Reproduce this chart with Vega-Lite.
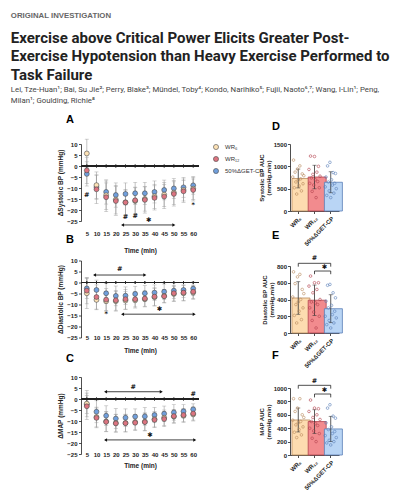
{
"$schema":"https://vega.github.io/schema/vega-lite/v6.json",
"padding":{"left":10,"top":11,"right":5,"bottom":5},
"background":"white",
"title":{"text":"ORIGINAL INVESTIGATION","anchor":"start","frame":"bounds","font":"Liberation Sans","fontSize":7.8,"fontWeight":"bold","color":"#666666","offset":11},
"vconcat":[{
 "title":{"text":["Exercise above Critical Power Elicits Greater Post-","Exercise Hypotension than Heavy Exercise Performed to","Task Failure"],
  "subtitle":["Lei, Tze-Huan¹; Bai, Su Jie²; Perry, Blake³; Mündel, Toby⁴; Kondo, Narihiko⁵; Fujii, Naoto⁶,⁷; Wang, I-Lin¹; Peng,","Milan¹; Goulding, Richie⁸"],
  "anchor":"start","frame":"bounds","dx":-47,"font":"Roboto","fontSize":15,"fontWeight":"bold","lineHeight":18.5,"color":"#222222",
  "subtitleFont":"Roboto","subtitleFontSize":7.8,"subtitleColor":"#444444","subtitleLineHeight":11.5,"subtitlePadding":3,"offset":9},
 "spacing":-6,
 "resolve":{"scale":{"fill":"independent","stroke":"independent","shape":"independent"}},
 "hconcat":[
  {"vconcat":[
   {"title":{"text":"A","anchor":"start","frame":"group","dx":-15,"offset":14,"font":"Liberation Sans","fontSize":11,"fontWeight":"bold","color":"#000000"},
    "width":118,"height":77,
    "resolve":{"axis":{"x":"independent","y":"independent"}},
    "layer":[
     {"data":{"name":"sbp"},"mark":{"type":"errorbar","ticks":true,"size":4,"thickness":0.6,"color":"#9a9a9a"},
      "encoding":{"x":{"field":"t","type":"quantitative","scale":{"domain":[2,63],"nice":false,"zero":false},"axis":{"orient":"bottom","values":[5,10,15,20,25,30,35,40,45,50,55,60],"domain":false,"ticks":false,"labelPadding":0,"labelBaseline":"middle","labelFlush":false,"offset":12,"title":"Time (min)","titlePadding":11.5}},
       "y":{"field":"m","type":"quantitative","scale":{"domain":[-25,10],"nice":false,"zero":false},"axis":{"values":[-25,-20,-15,-10,-5,0,5,10],"labelOverlap":false,"title":"ΔSystolic BP (mmHg)"}},
       "yError":{"field":"sd"}}},
     {"data":{"name":"sbp"},"mark":{"type":"rule","color":"#222222","strokeWidth":0.8},"encoding":{"y":{"datum":0,"type":"quantitative","axis":null}}},
     {"data":{"name":"sbp"},"mark":{"type":"tick","orient":"vertical","size":3,"thickness":0.8,"color":"#222222"},
      "encoding":{"x":{"field":"t","type":"quantitative","axis":null},"y":{"datum":0,"type":"quantitative","axis":null}}},
     {"data":{"name":"sbp"},"mark":{"type":"point","filled":true,"size":24,"stroke":"#4a4a4a","strokeWidth":0.6,"opacity":1},
      "encoding":{"x":{"field":"t","type":"quantitative","axis":null},
       "y":{"field":"m","type":"quantitative","axis":null},
       "fill":{"field":"g","type":"nominal","scale":{"domain":["WR₆","WR₁₂","50%ΔGET-CP"],"range":["#fde2b6","#dc7480","#709fdc"]},
        "legend":{"title":null,"orient":"right","offset":14,"padding":0,"symbolType":"circle","symbolSize":26,"symbolStrokeColor":"#4a4a4a","symbolStrokeWidth":0.6,"symbolOpacity":1,"labelFont":"Liberation Sans","labelFontSize":6,"labelColor":"#333333","labelOffset":6,"rowPadding":4}}}},
     {"data":{"name":"arr"},"transform":[{"filter":"datum.p==='A'"}],"mark":{"type":"rule","color":"#111111","strokeWidth":0.8},
      "encoding":{"x":{"field":"t1","type":"quantitative","axis":null},"x2":{"field":"t2"},"y":{"field":"y","type":"quantitative","axis":null}}},
     {"data":{"name":"arr"},"transform":[{"filter":"datum.p==='A'"},{"fold":["t1","t2"],"as":["end","t"]}],"mark":{"type":"point","filled":true,"size":12,"color":"#111111","opacity":1},
      "encoding":{"x":{"field":"t","type":"quantitative","axis":null},"y":{"field":"y","type":"quantitative","axis":null},"shape":{"field":"end","type":"nominal","scale":{"domain":["t1","t2"],"range":["triangle-left","triangle-right"]},"legend":null}}},
     {"data":{"name":"sig"},"transform":[{"filter":"datum.p==='A'"}],"mark":{"type":"text","font":"DejaVu Sans","fontSize":6.5,"fontWeight":"bold","color":"#111111","baseline":"middle"},
      "encoding":{"x":{"field":"t","type":"quantitative","axis":null},"y":{"field":"y","type":"quantitative","axis":null},"text":{"field":"s"}}}
    ]},
   {"title":{"text":"B","anchor":"start","frame":"group","dx":-15,"offset":13,"font":"Liberation Sans","fontSize":11,"fontWeight":"bold","color":"#000000"},
    "width":118,"height":77,
    "resolve":{"axis":{"x":"independent","y":"independent"}},
    "layer":[
     {"data":{"name":"dbp"},"mark":{"type":"errorbar","ticks":true,"size":4,"thickness":0.6,"color":"#9a9a9a"},
      "encoding":{"x":{"field":"t","type":"quantitative","scale":{"domain":[2,63],"nice":false,"zero":false},"axis":{"orient":"bottom","values":[5,10,15,20,25,30,35,40,45,50,55,60],"domain":false,"ticks":false,"labelPadding":0,"labelBaseline":"middle","labelFlush":false,"offset":0,"title":"Time (min)","titlePadding":6.5}},
       "y":{"field":"m","type":"quantitative","scale":{"domain":[-25,10],"nice":false,"zero":false},"axis":{"values":[-25,-20,-15,-10,-5,0,5,10],"labelOverlap":false,"title":"ΔDiastolic BP (mmHg)"}},
       "yError":{"field":"sd"}}},
     {"data":{"name":"dbp"},"mark":{"type":"rule","color":"#222222","strokeWidth":0.8},"encoding":{"y":{"datum":0,"type":"quantitative","axis":null}}},
     {"data":{"name":"dbp"},"mark":{"type":"tick","orient":"vertical","size":3,"thickness":0.8,"color":"#222222"},
      "encoding":{"x":{"field":"t","type":"quantitative","axis":null},"y":{"datum":0,"type":"quantitative","axis":null}}},
     {"data":{"name":"dbp"},"mark":{"type":"point","filled":true,"size":24,"stroke":"#4a4a4a","strokeWidth":0.6,"opacity":1},
      "encoding":{"x":{"field":"t","type":"quantitative","axis":null},
       "y":{"field":"m","type":"quantitative","axis":null},
       "fill":{"field":"g","type":"nominal","scale":{"domain":["WR₆","WR₁₂","50%ΔGET-CP"],"range":["#fde2b6","#dc7480","#709fdc"]},"legend":null}}},
     {"data":{"name":"arr"},"transform":[{"filter":"datum.p==='B'"}],"mark":{"type":"rule","color":"#111111","strokeWidth":0.8},
      "encoding":{"x":{"field":"t1","type":"quantitative","axis":null},"x2":{"field":"t2"},"y":{"field":"y","type":"quantitative","axis":null}}},
     {"data":{"name":"arr"},"transform":[{"filter":"datum.p==='B'"},{"fold":["t1","t2"],"as":["end","t"]}],"mark":{"type":"point","filled":true,"size":12,"color":"#111111","opacity":1},
      "encoding":{"x":{"field":"t","type":"quantitative","axis":null},"y":{"field":"y","type":"quantitative","axis":null},"shape":{"field":"end","type":"nominal","scale":{"domain":["t1","t2"],"range":["triangle-left","triangle-right"]},"legend":null}}},
     {"data":{"name":"sig"},"transform":[{"filter":"datum.p==='B'"}],"mark":{"type":"text","font":"DejaVu Sans","fontSize":6.5,"fontWeight":"bold","color":"#111111","baseline":"middle"},
      "encoding":{"x":{"field":"t","type":"quantitative","axis":null},"y":{"field":"y","type":"quantitative","axis":null},"text":{"field":"s"}}}
    ]},
   {"title":{"text":"C","anchor":"start","frame":"group","dx":-15,"offset":10,"font":"Liberation Sans","fontSize":11,"fontWeight":"bold","color":"#000000"},
    "width":118,"height":77,
    "resolve":{"axis":{"x":"independent","y":"independent"}},
    "layer":[
     {"data":{"name":"map"},"mark":{"type":"errorbar","ticks":true,"size":4,"thickness":0.6,"color":"#9a9a9a"},
      "encoding":{"x":{"field":"t","type":"quantitative","scale":{"domain":[2,63],"nice":false,"zero":false},"axis":{"orient":"bottom","values":[5,10,15,20,25,30,35,40,45,50,55,60],"domain":false,"ticks":false,"labelPadding":0,"labelBaseline":"middle","labelFlush":false,"offset":0,"title":"Time (min)","titlePadding":5.5}},
       "y":{"field":"m","type":"quantitative","scale":{"domain":[-25,10],"nice":false,"zero":false},"axis":{"values":[-25,-20,-15,-10,-5,0,5,10],"labelOverlap":false,"title":"ΔMAP (mmHg)"}},
       "yError":{"field":"sd"}}},
     {"data":{"name":"map"},"mark":{"type":"rule","color":"#222222","strokeWidth":0.8},"encoding":{"y":{"datum":0,"type":"quantitative","axis":null}}},
     {"data":{"name":"map"},"mark":{"type":"tick","orient":"vertical","size":3,"thickness":0.8,"color":"#222222"},
      "encoding":{"x":{"field":"t","type":"quantitative","axis":null},"y":{"datum":0,"type":"quantitative","axis":null}}},
     {"data":{"name":"map"},"mark":{"type":"point","filled":true,"size":24,"stroke":"#4a4a4a","strokeWidth":0.6,"opacity":1},
      "encoding":{"x":{"field":"t","type":"quantitative","axis":null},
       "y":{"field":"m","type":"quantitative","axis":null},
       "fill":{"field":"g","type":"nominal","scale":{"domain":["WR₆","WR₁₂","50%ΔGET-CP"],"range":["#fde2b6","#dc7480","#709fdc"]},"legend":null}}},
     {"data":{"name":"arr"},"transform":[{"filter":"datum.p==='C'"}],"mark":{"type":"rule","color":"#111111","strokeWidth":0.8},
      "encoding":{"x":{"field":"t1","type":"quantitative","axis":null},"x2":{"field":"t2"},"y":{"field":"y","type":"quantitative","axis":null}}},
     {"data":{"name":"arr"},"transform":[{"filter":"datum.p==='C'"},{"fold":["t1","t2"],"as":["end","t"]}],"mark":{"type":"point","filled":true,"size":12,"color":"#111111","opacity":1},
      "encoding":{"x":{"field":"t","type":"quantitative","axis":null},"y":{"field":"y","type":"quantitative","axis":null},"shape":{"field":"end","type":"nominal","scale":{"domain":["t1","t2"],"range":["triangle-left","triangle-right"]},"legend":null}}},
     {"data":{"name":"sig"},"transform":[{"filter":"datum.p==='C'"}],"mark":{"type":"text","font":"DejaVu Sans","fontSize":6.5,"fontWeight":"bold","color":"#111111","baseline":"middle"},
      "encoding":{"x":{"field":"t","type":"quantitative","axis":null},"y":{"field":"y","type":"quantitative","axis":null},"text":{"field":"s"}}}
    ]}
  ],
  "spacing":39.5,"bounds":"flush",
  "resolve":{"scale":{"fill":"independent","shape":"independent"},"legend":{"fill":"independent"}}},
  {"vconcat":[
   {"title":{"text":"D","anchor":"start","frame":"group","dx":-18,"offset":9,"font":"Liberation Sans","fontSize":11,"fontWeight":"bold","color":"#000000"},
    "width":49,"height":67,
    "resolve":{"axis":{"x":"independent","y":"independent"}},
    "layer":[
     {"data":{"name":"auc"},"transform":[{"filter":"datum.p==='D'"}],"mark":{"type":"bar","strokeWidth":0.8},
      "encoding":{"x":{"field":"g","type":"nominal","sort":["WR₆","WR₁₂","50%ΔGET-CP"],"scale":{"paddingInner":0.22,"paddingOuter":0.12},"axis":{"title":null,"labelAngle":-45}},
       "y":{"aggregate":"mean","field":"v","type":"quantitative","scale":{"domain":[0,1500],"nice":false},"axis":{"values":[0,500,1000,1500],"format":"d","titleFontSize":6,"titleLineHeight":7,"titlePadding":2,"labelPadding":1,"title":["Systolic BP AUC","(mmHg.min)"]}},
       "fill":{"field":"g","type":"nominal","scale":{"domain":["WR₆","WR₁₂","50%ΔGET-CP"],"range":["#fddcb0","#f28b8e","#b9d5f5"]},"legend":null},
       "stroke":{"field":"g","type":"nominal","scale":{"domain":["WR₆","WR₁₂","50%ΔGET-CP"],"range":["#b98a5c","#b3424e","#5b7fb8"]},"legend":null}}},
     {"data":{"name":"auc"},"transform":[{"filter":"datum.p==='D'"}],"mark":{"type":"errorbar","extent":"stdev","ticks":true,"size":4,"thickness":0.8,"color":"#333333"},
      "encoding":{"x":{"field":"g","type":"nominal","sort":["WR₆","WR₁₂","50%ΔGET-CP"],"axis":null},"y":{"field":"v","type":"quantitative","axis":null}}},
     {"data":{"name":"auc"},"transform":[{"filter":"datum.p==='D'"}],"mark":{"type":"point","filled":false,"size":7,"strokeWidth":0.6,"opacity":1},
      "encoding":{"x":{"field":"g","type":"nominal","sort":["WR₆","WR₁₂","50%ΔGET-CP"],"axis":null},"xOffset":{"field":"s","type":"nominal","scale":{"paddingOuter":1.5}},"y":{"field":"v","type":"quantitative","axis":null},"stroke":{"field":"g","type":"nominal","legend":null}}}
    ]},
   {"title":{"text":"E","anchor":"start","frame":"group","dx":-18,"offset":14,"font":"Liberation Sans","fontSize":11,"fontWeight":"bold","color":"#000000"},
    "width":49,"height":67,
    "resolve":{"axis":{"x":"independent","y":"independent"}},
    "layer":[
     {"data":{"name":"auc"},"transform":[{"filter":"datum.p==='E'"}],"mark":{"type":"bar","strokeWidth":0.8},
      "encoding":{"x":{"field":"g","type":"nominal","sort":["WR₆","WR₁₂","50%ΔGET-CP"],"scale":{"paddingInner":0.22,"paddingOuter":0.12},"axis":{"title":null,"labelAngle":-45}},
       "y":{"aggregate":"mean","field":"v","type":"quantitative","scale":{"domain":[0,800],"nice":false},"axis":{"values":[0,200,400,600,800],"format":"d","titleFontSize":6,"titleLineHeight":7,"titlePadding":2,"labelPadding":1,"title":["Diastolic BP AUC","(mmHg.min)"]}},
       "fill":{"field":"g","type":"nominal","scale":{"domain":["WR₆","WR₁₂","50%ΔGET-CP"],"range":["#fddcb0","#f28b8e","#b9d5f5"]},"legend":null},
       "stroke":{"field":"g","type":"nominal","scale":{"domain":["WR₆","WR₁₂","50%ΔGET-CP"],"range":["#b98a5c","#b3424e","#5b7fb8"]},"legend":null}}},
     {"data":{"name":"auc"},"transform":[{"filter":"datum.p==='E'"}],"mark":{"type":"errorbar","extent":"stdev","ticks":true,"size":4,"thickness":0.8,"color":"#333333"},
      "encoding":{"x":{"field":"g","type":"nominal","sort":["WR₆","WR₁₂","50%ΔGET-CP"],"axis":null},"y":{"field":"v","type":"quantitative","axis":null}}},
     {"data":{"name":"auc"},"transform":[{"filter":"datum.p==='E'"}],"mark":{"type":"point","filled":false,"size":7,"strokeWidth":0.6,"opacity":1},
      "encoding":{"x":{"field":"g","type":"nominal","sort":["WR₆","WR₁₂","50%ΔGET-CP"],"axis":null},"xOffset":{"field":"s","type":"nominal","scale":{"paddingOuter":1.5}},"y":{"field":"v","type":"quantitative","axis":null},"stroke":{"field":"g","type":"nominal","legend":null}}},
     {"data":{"name":"br"},"transform":[{"filter":"datum.p==='E'"}],"mark":{"type":"line","color":"#222222","strokeWidth":0.8},
      "encoding":{"x":{"field":"g","type":"nominal","sort":["WR₆","WR₁₂","50%ΔGET-CP"],"axis":null},"y":{"field":"y","type":"quantitative","axis":null},"detail":{"field":"b"},"order":{"field":"o"}}},
     {"data":{"name":"brt"},"transform":[{"filter":"datum.p==='E' && datum.s==='#'"}],"mark":{"type":"text","font":"DejaVu Sans","fontSize":6.5,"fontWeight":"bold","color":"#111111","baseline":"middle"},
      "encoding":{"x":{"field":"g","type":"nominal","sort":["WR₆","WR₁₂","50%ΔGET-CP"],"axis":null},"y":{"field":"y","type":"quantitative","axis":null},"text":{"field":"s"}}},
     {"data":{"name":"brt"},"transform":[{"filter":"datum.p==='E' && datum.s!=='#'"}],"mark":{"type":"text","font":"DejaVu Sans","fontSize":6.5,"fontWeight":"bold","color":"#111111","baseline":"middle"},
      "encoding":{"x":{"field":"g","type":"nominal","sort":["WR₆","WR₁₂","50%ΔGET-CP"],"bandPosition":0,"axis":null},"y":{"field":"y","type":"quantitative","axis":null},"text":{"field":"s"}}}
    ]},
   {"title":{"text":"F","anchor":"start","frame":"group","dx":-18,"offset":17,"font":"Liberation Sans","fontSize":11,"fontWeight":"bold","color":"#000000"},
    "width":49,"height":67,
    "resolve":{"axis":{"x":"independent","y":"independent"}},
    "layer":[
     {"data":{"name":"auc"},"transform":[{"filter":"datum.p==='F'"}],"mark":{"type":"bar","strokeWidth":0.8},
      "encoding":{"x":{"field":"g","type":"nominal","sort":["WR₆","WR₁₂","50%ΔGET-CP"],"scale":{"paddingInner":0.22,"paddingOuter":0.12},"axis":{"title":null,"labelAngle":-45}},
       "y":{"aggregate":"mean","field":"v","type":"quantitative","scale":{"domain":[0,1000],"nice":false},"axis":{"values":[0,200,400,600,800,1000],"format":"d","titleFontSize":6,"titleLineHeight":7,"titlePadding":2,"labelPadding":1,"title":["MAP AUC","(mmHg.min)"]}},
       "fill":{"field":"g","type":"nominal","scale":{"domain":["WR₆","WR₁₂","50%ΔGET-CP"],"range":["#fddcb0","#f28b8e","#b9d5f5"]},"legend":null},
       "stroke":{"field":"g","type":"nominal","scale":{"domain":["WR₆","WR₁₂","50%ΔGET-CP"],"range":["#b98a5c","#b3424e","#5b7fb8"]},"legend":null}}},
     {"data":{"name":"auc"},"transform":[{"filter":"datum.p==='F'"}],"mark":{"type":"errorbar","extent":"stdev","ticks":true,"size":4,"thickness":0.8,"color":"#333333"},
      "encoding":{"x":{"field":"g","type":"nominal","sort":["WR₆","WR₁₂","50%ΔGET-CP"],"axis":null},"y":{"field":"v","type":"quantitative","axis":null}}},
     {"data":{"name":"auc"},"transform":[{"filter":"datum.p==='F'"}],"mark":{"type":"point","filled":false,"size":7,"strokeWidth":0.6,"opacity":1},
      "encoding":{"x":{"field":"g","type":"nominal","sort":["WR₆","WR₁₂","50%ΔGET-CP"],"axis":null},"xOffset":{"field":"s","type":"nominal","scale":{"paddingOuter":1.5}},"y":{"field":"v","type":"quantitative","axis":null},"stroke":{"field":"g","type":"nominal","legend":null}}},
     {"data":{"name":"br"},"transform":[{"filter":"datum.p==='F'"}],"mark":{"type":"line","color":"#222222","strokeWidth":0.8},
      "encoding":{"x":{"field":"g","type":"nominal","sort":["WR₆","WR₁₂","50%ΔGET-CP"],"axis":null},"y":{"field":"y","type":"quantitative","axis":null},"detail":{"field":"b"},"order":{"field":"o"}}},
     {"data":{"name":"brt"},"transform":[{"filter":"datum.p==='F' && datum.s==='#'"}],"mark":{"type":"text","font":"DejaVu Sans","fontSize":6.5,"fontWeight":"bold","color":"#111111","baseline":"middle"},
      "encoding":{"x":{"field":"g","type":"nominal","sort":["WR₆","WR₁₂","50%ΔGET-CP"],"axis":null},"y":{"field":"y","type":"quantitative","axis":null},"text":{"field":"s"}}},
     {"data":{"name":"brt"},"transform":[{"filter":"datum.p==='F' && datum.s!=='#'"}],"mark":{"type":"text","font":"DejaVu Sans","fontSize":6.5,"fontWeight":"bold","color":"#111111","baseline":"middle"},
      "encoding":{"x":{"field":"g","type":"nominal","sort":["WR₆","WR₁₂","50%ΔGET-CP"],"bandPosition":0,"axis":null},"y":{"field":"y","type":"quantitative","axis":null},"text":{"field":"s"}}}
    ]}
  ],
  "spacing":55,"bounds":"flush"}
 ]
}],
"datasets":{
"sbp":[
{"t":5,"g":"50%ΔGET-CP","m":-3.6,"sd":5.5},{"t":5,"g":"WR₆","m":5.7,"sd":6.5},{"t":5,"g":"WR₁₂","m":-2.0,"sd":6},
{"t":10,"g":"50%ΔGET-CP","m":-9.6,"sd":5.5},{"t":10,"g":"WR₆","m":-8.7,"sd":6},{"t":10,"g":"WR₁₂","m":-10.6,"sd":6.5},
{"t":15,"g":"50%ΔGET-CP","m":-11.8,"sd":5.5},{"t":15,"g":"WR₆","m":-13.3,"sd":6.5},{"t":15,"g":"WR₁₂","m":-14.2,"sd":6.5},
{"t":20,"g":"50%ΔGET-CP","m":-13.2,"sd":5.5},{"t":20,"g":"WR₆","m":-15.3,"sd":6.5},{"t":20,"g":"WR₁₂","m":-15.9,"sd":6.5},
{"t":25,"g":"50%ΔGET-CP","m":-12.7,"sd":5},{"t":25,"g":"WR₆","m":-16.5,"sd":5.5},{"t":25,"g":"WR₁₂","m":-16.6,"sd":6},
{"t":30,"g":"50%ΔGET-CP","m":-12.4,"sd":5},{"t":30,"g":"WR₆","m":-15.9,"sd":6},{"t":30,"g":"WR₁₂","m":-15.6,"sd":6},
{"t":35,"g":"50%ΔGET-CP","m":-12.4,"sd":5},{"t":35,"g":"WR₆","m":-15.0,"sd":5.5},{"t":35,"g":"WR₁₂","m":-15.4,"sd":6},
{"t":40,"g":"50%ΔGET-CP","m":-11.8,"sd":5},{"t":40,"g":"WR₆","m":-13.8,"sd":5.5},{"t":40,"g":"WR₁₂","m":-14.5,"sd":5.5},
{"t":45,"g":"50%ΔGET-CP","m":-10.9,"sd":4.5},{"t":45,"g":"WR₆","m":-13.0,"sd":5.5},{"t":45,"g":"WR₁₂","m":-13.9,"sd":5.5},
{"t":50,"g":"50%ΔGET-CP","m":-10.2,"sd":4.5},{"t":50,"g":"WR₆","m":-12.1,"sd":5.5},{"t":50,"g":"WR₁₂","m":-12.7,"sd":5.5},
{"t":55,"g":"50%ΔGET-CP","m":-9.7,"sd":4.5},{"t":55,"g":"WR₆","m":-10.9,"sd":5},{"t":55,"g":"WR₁₂","m":-11.5,"sd":5},
{"t":60,"g":"50%ΔGET-CP","m":-8.8,"sd":4},{"t":60,"g":"WR₆","m":-10.3,"sd":5},{"t":60,"g":"WR₁₂","m":-10.9,"sd":5}
],
"dbp":[
{"t":5,"g":"50%ΔGET-CP","m":-2.7,"sd":4.5},{"t":5,"g":"WR₆","m":-4.9,"sd":7},{"t":5,"g":"WR₁₂","m":-3.7,"sd":6},
{"t":10,"g":"50%ΔGET-CP","m":-3.4,"sd":4.5},{"t":10,"g":"WR₆","m":-7.9,"sd":4.5},{"t":10,"g":"WR₁₂","m":-6.6,"sd":5.5},
{"t":15,"g":"50%ΔGET-CP","m":-4.9,"sd":4.5},{"t":15,"g":"WR₆","m":-8.5,"sd":4.5},{"t":15,"g":"WR₁₂","m":-7.8,"sd":5},
{"t":20,"g":"50%ΔGET-CP","m":-6.1,"sd":4.5},{"t":20,"g":"WR₆","m":-8.5,"sd":4.5},{"t":20,"g":"WR₁₂","m":-8.1,"sd":4.5},
{"t":25,"g":"50%ΔGET-CP","m":-6.0,"sd":4},{"t":25,"g":"WR₆","m":-8.2,"sd":4},{"t":25,"g":"WR₁₂","m":-7.6,"sd":4.5},
{"t":30,"g":"50%ΔGET-CP","m":-5.2,"sd":3.5},{"t":30,"g":"WR₆","m":-8.1,"sd":3.5},{"t":30,"g":"WR₁₂","m":-7.6,"sd":3.5},
{"t":35,"g":"50%ΔGET-CP","m":-4.9,"sd":3.5},{"t":35,"g":"WR₆","m":-7.6,"sd":3.5},{"t":35,"g":"WR₁₂","m":-7.3,"sd":3.5},
{"t":40,"g":"50%ΔGET-CP","m":-4.6,"sd":3.5},{"t":40,"g":"WR₆","m":-6.7,"sd":4},{"t":40,"g":"WR₁₂","m":-6.4,"sd":4},
{"t":45,"g":"50%ΔGET-CP","m":-4.2,"sd":3.5},{"t":45,"g":"WR₆","m":-6.1,"sd":3},{"t":45,"g":"WR₁₂","m":-6.3,"sd":3},
{"t":50,"g":"50%ΔGET-CP","m":-3.7,"sd":3.5},{"t":50,"g":"WR₆","m":-5.2,"sd":3.5},{"t":50,"g":"WR₁₂","m":-4.9,"sd":3.5},
{"t":55,"g":"50%ΔGET-CP","m":-3.4,"sd":3.5},{"t":55,"g":"WR₆","m":-4.9,"sd":3.5},{"t":55,"g":"WR₁₂","m":-4.6,"sd":3.5},
{"t":60,"g":"50%ΔGET-CP","m":-2.8,"sd":3},{"t":60,"g":"WR₆","m":-4.6,"sd":3},{"t":60,"g":"WR₁₂","m":-4.2,"sd":3}
],
"map":[
{"t":5,"g":"50%ΔGET-CP","m":-2.5,"sd":4},{"t":5,"g":"WR₆","m":-2.1,"sd":6},{"t":5,"g":"WR₁₂","m":-3.3,"sd":6},
{"t":10,"g":"50%ΔGET-CP","m":-5.8,"sd":5},{"t":10,"g":"WR₆","m":-8.2,"sd":4.5},{"t":10,"g":"WR₁₂","m":-8.6,"sd":4.5},
{"t":15,"g":"50%ΔGET-CP","m":-7.6,"sd":4.5},{"t":15,"g":"WR₆","m":-10.2,"sd":4.5},{"t":15,"g":"WR₁₂","m":-10.4,"sd":4.5},
{"t":20,"g":"50%ΔGET-CP","m":-8.9,"sd":4.5},{"t":20,"g":"WR₆","m":-10.9,"sd":4},{"t":20,"g":"WR₁₂","m":-11.1,"sd":4},
{"t":25,"g":"50%ΔGET-CP","m":-8.5,"sd":4},{"t":25,"g":"WR₆","m":-10.9,"sd":4},{"t":25,"g":"WR₁₂","m":-11.0,"sd":4},
{"t":30,"g":"50%ΔGET-CP","m":-8.0,"sd":3.5},{"t":30,"g":"WR₆","m":-10.5,"sd":3.5},{"t":30,"g":"WR₁₂","m":-10.8,"sd":3.5},
{"t":35,"g":"50%ΔGET-CP","m":-7.9,"sd":4},{"t":35,"g":"WR₆","m":-10.3,"sd":4},{"t":35,"g":"WR₁₂","m":-10.5,"sd":4},
{"t":40,"g":"50%ΔGET-CP","m":-7.3,"sd":3.5},{"t":40,"g":"WR₆","m":-9.2,"sd":3.5},{"t":40,"g":"WR₁₂","m":-9.5,"sd":3.5},
{"t":45,"g":"50%ΔGET-CP","m":-6.7,"sd":3.5},{"t":45,"g":"WR₆","m":-8.5,"sd":3.5},{"t":45,"g":"WR₁₂","m":-9.1,"sd":3.5},
{"t":50,"g":"50%ΔGET-CP","m":-6.1,"sd":3.5},{"t":50,"g":"WR₆","m":-8.0,"sd":3},{"t":50,"g":"WR₁₂","m":-7.8,"sd":3},
{"t":55,"g":"50%ΔGET-CP","m":-5.6,"sd":3},{"t":55,"g":"WR₆","m":-7.6,"sd":3},{"t":55,"g":"WR₁₂","m":-7.3,"sd":3},
{"t":60,"g":"50%ΔGET-CP","m":-4.7,"sd":2.5},{"t":60,"g":"WR₆","m":-7.0,"sd":3},{"t":60,"g":"WR₁₂","m":-6.6,"sd":3}
],
"arr":[
{"p":"A","t1":23.5,"t2":50,"y":-26.8},
{"p":"B","t1":9,"t2":35,"y":3.4},{"p":"B","t1":23.5,"t2":60.5,"y":-14.4},
{"p":"C","t1":14.7,"t2":43.5,"y":3.3},{"p":"C","t1":14.7,"t2":60.8,"y":-18.6}
],
"sig":[
{"p":"A","t":5,"y":-13.2,"s":"#"},{"p":"A","t":25,"y":-23.3,"s":"#"},{"p":"A","t":30,"y":-22.8,"s":"#"},{"p":"A","t":37,"y":-24.6,"s":"✱"},{"p":"A","t":60,"y":-17.7,"s":"*"},
{"p":"B","t":22,"y":6.1,"s":"#"},{"p":"B","t":15,"y":-14.2,"s":"*"},{"p":"B","t":42.5,"y":-12.1,"s":"✱"},
{"p":"C","t":29,"y":5.5,"s":"#"},{"p":"C","t":60,"y":2.2,"s":"#"},{"p":"C","t":37.6,"y":-16.2,"s":"✱"}
],
"br":[
{"p":"E","b":"h","g":"WR₆","y":792,"o":1},{"p":"E","b":"h","g":"WR₆","y":832,"o":2},{"p":"E","b":"h","g":"50%ΔGET-CP","y":832,"o":3},{"p":"E","b":"h","g":"50%ΔGET-CP","y":792,"o":4},
{"p":"E","b":"s","g":"WR₁₂","y":702,"o":1},{"p":"E","b":"s","g":"WR₁₂","y":740,"o":2},{"p":"E","b":"s","g":"50%ΔGET-CP","y":740,"o":3},{"p":"E","b":"s","g":"50%ΔGET-CP","y":702,"o":4},
{"p":"F","b":"h","g":"WR₆","y":990,"o":1},{"p":"F","b":"h","g":"WR₆","y":1040,"o":2},{"p":"F","b":"h","g":"50%ΔGET-CP","y":1040,"o":3},{"p":"F","b":"h","g":"50%ΔGET-CP","y":990,"o":4},
{"p":"F","b":"s","g":"WR₁₂","y":860,"o":1},{"p":"F","b":"s","g":"WR₁₂","y":910,"o":2},{"p":"F","b":"s","g":"50%ΔGET-CP","y":910,"o":3},{"p":"F","b":"s","g":"50%ΔGET-CP","y":860,"o":4}
],
"brt":[
{"p":"E","s":"#","g":"WR₁₂","y":892},{"p":"E","s":"✱","g":"50%ΔGET-CP","y":784},
{"p":"F","s":"#","g":"WR₁₂","y":1110},{"p":"F","s":"✱","g":"50%ΔGET-CP","y":970}
],
"auc":[
{"p":"D","g":"WR₆","s":1,"v":760},{"p":"D","g":"WR₆","s":2,"v":1140},{"p":"D","g":"WR₆","s":3,"v":520},{"p":"D","g":"WR₆","s":4,"v":870},{"p":"D","g":"WR₆","s":5,"v":650},{"p":"D","g":"WR₆","s":6,"v":380},{"p":"D","g":"WR₆","s":7,"v":940},{"p":"D","g":"WR₆","s":8,"v":690},{"p":"D","g":"WR₆","s":9,"v":560},{"p":"D","g":"WR₆","s":10,"v":1010},{"p":"D","g":"WR₆","s":11,"v":720},{"p":"D","g":"WR₆","s":12,"v":450},{"p":"D","g":"WR₆","s":13,"v":830},{"p":"D","g":"WR₆","s":14,"v":610},{"p":"D","g":"WR₆","s":15,"v":790},
{"p":"D","g":"WR₁₂","s":1,"v":930},{"p":"D","g":"WR₁₂","s":2,"v":620},{"p":"D","g":"WR₁₂","s":3,"v":1230},{"p":"D","g":"WR₁₂","s":4,"v":740},{"p":"D","g":"WR₁₂","s":5,"v":440},{"p":"D","g":"WR₁₂","s":6,"v":820},{"p":"D","g":"WR₁₂","s":7,"v":580},{"p":"D","g":"WR₁₂","s":8,"v":1220},{"p":"D","g":"WR₁₂","s":9,"v":700},{"p":"D","g":"WR₁₂","s":10,"v":300},{"p":"D","g":"WR₁₂","s":11,"v":870},{"p":"D","g":"WR₁₂","s":12,"v":660},{"p":"D","g":"WR₁₂","s":13,"v":1000},{"p":"D","g":"WR₁₂","s":14,"v":520},{"p":"D","g":"WR₁₂","s":15,"v":780},
{"p":"D","g":"50%ΔGET-CP","s":1,"v":540},{"p":"D","g":"50%ΔGET-CP","s":2,"v":760},{"p":"D","g":"50%ΔGET-CP","s":3,"v":350},{"p":"D","g":"50%ΔGET-CP","s":4,"v":1010},{"p":"D","g":"50%ΔGET-CP","s":5,"v":650},{"p":"D","g":"50%ΔGET-CP","s":6,"v":450},{"p":"D","g":"50%ΔGET-CP","s":7,"v":1090},{"p":"D","g":"50%ΔGET-CP","s":8,"v":300},{"p":"D","g":"50%ΔGET-CP","s":9,"v":700},{"p":"D","g":"50%ΔGET-CP","s":10,"v":580},{"p":"D","g":"50%ΔGET-CP","s":11,"v":860},{"p":"D","g":"50%ΔGET-CP","s":12,"v":400},{"p":"D","g":"50%ΔGET-CP","s":13,"v":620},{"p":"D","g":"50%ΔGET-CP","s":14,"v":840},{"p":"D","g":"50%ΔGET-CP","s":15,"v":500},
{"p":"E","g":"WR₆","s":1,"v":430},{"p":"E","g":"WR₆","s":2,"v":730},{"p":"E","g":"WR₆","s":3,"v":210},{"p":"E","g":"WR₆","s":4,"v":590},{"p":"E","g":"WR₆","s":5,"v":340},{"p":"E","g":"WR₆","s":6,"v":120},{"p":"E","g":"WR₆","s":7,"v":670},{"p":"E","g":"WR₆","s":8,"v":370},{"p":"E","g":"WR₆","s":9,"v":260},{"p":"E","g":"WR₆","s":10,"v":700},{"p":"E","g":"WR₆","s":11,"v":400},{"p":"E","g":"WR₆","s":12,"v":160},{"p":"E","g":"WR₆","s":13,"v":520},{"p":"E","g":"WR₆","s":14,"v":300},{"p":"E","g":"WR₆","s":15,"v":470},
{"p":"E","g":"WR₁₂","s":1,"v":560},{"p":"E","g":"WR₁₂","s":2,"v":300},{"p":"E","g":"WR₁₂","s":3,"v":680},{"p":"E","g":"WR₁₂","s":4,"v":370},{"p":"E","g":"WR₁₂","s":5,"v":150},{"p":"E","g":"WR₁₂","s":6,"v":480},{"p":"E","g":"WR₁₂","s":7,"v":250},{"p":"E","g":"WR₁₂","s":8,"v":600},{"p":"E","g":"WR₁₂","s":9,"v":360},{"p":"E","g":"WR₁₂","s":10,"v":60},{"p":"E","g":"WR₁₂","s":11,"v":520},{"p":"E","g":"WR₁₂","s":12,"v":340},{"p":"E","g":"WR₁₂","s":13,"v":600},{"p":"E","g":"WR₁₂","s":14,"v":200},{"p":"E","g":"WR₁₂","s":15,"v":400},
{"p":"E","g":"50%ΔGET-CP","s":1,"v":200},{"p":"E","g":"50%ΔGET-CP","s":2,"v":380},{"p":"E","g":"50%ΔGET-CP","s":3,"v":100},{"p":"E","g":"50%ΔGET-CP","s":4,"v":570},{"p":"E","g":"50%ΔGET-CP","s":5,"v":300},{"p":"E","g":"50%ΔGET-CP","s":6,"v":150},{"p":"E","g":"50%ΔGET-CP","s":7,"v":580},{"p":"E","g":"50%ΔGET-CP","s":8,"v":60},{"p":"E","g":"50%ΔGET-CP","s":9,"v":330},{"p":"E","g":"50%ΔGET-CP","s":10,"v":220},{"p":"E","g":"50%ΔGET-CP","s":11,"v":480},{"p":"E","g":"50%ΔGET-CP","s":12,"v":120},{"p":"E","g":"50%ΔGET-CP","s":13,"v":260},{"p":"E","g":"50%ΔGET-CP","s":14,"v":420},{"p":"E","g":"50%ΔGET-CP","s":15,"v":180},
{"p":"F","g":"WR₆","s":1,"v":520},{"p":"F","g":"WR₆","s":2,"v":840},{"p":"F","g":"WR₆","s":3,"v":340},{"p":"F","g":"WR₆","s":4,"v":650},{"p":"F","g":"WR₆","s":5,"v":450},{"p":"F","g":"WR₆","s":6,"v":260},{"p":"F","g":"WR₆","s":7,"v":700},{"p":"F","g":"WR₆","s":8,"v":480},{"p":"F","g":"WR₆","s":9,"v":380},{"p":"F","g":"WR₆","s":10,"v":840},{"p":"F","g":"WR₆","s":11,"v":500},{"p":"F","g":"WR₆","s":12,"v":300},{"p":"F","g":"WR₆","s":13,"v":600},{"p":"F","g":"WR₆","s":14,"v":420},{"p":"F","g":"WR₆","s":15,"v":560},
{"p":"F","g":"WR₁₂","s":1,"v":650},{"p":"F","g":"WR₁₂","s":2,"v":400},{"p":"F","g":"WR₁₂","s":3,"v":820},{"p":"F","g":"WR₁₂","s":4,"v":500},{"p":"F","g":"WR₁₂","s":5,"v":250},{"p":"F","g":"WR₁₂","s":6,"v":560},{"p":"F","g":"WR₁₂","s":7,"v":360},{"p":"F","g":"WR₁₂","s":8,"v":700},{"p":"F","g":"WR₁₂","s":9,"v":470},{"p":"F","g":"WR₁₂","s":10,"v":200},{"p":"F","g":"WR₁₂","s":11,"v":600},{"p":"F","g":"WR₁₂","s":12,"v":440},{"p":"F","g":"WR₁₂","s":13,"v":690},{"p":"F","g":"WR₁₂","s":14,"v":320},{"p":"F","g":"WR₁₂","s":15,"v":530},
{"p":"F","g":"50%ΔGET-CP","s":1,"v":290},{"p":"F","g":"50%ΔGET-CP","s":2,"v":480},{"p":"F","g":"50%ΔGET-CP","s":3,"v":180},{"p":"F","g":"50%ΔGET-CP","s":4,"v":700},{"p":"F","g":"50%ΔGET-CP","s":5,"v":380},{"p":"F","g":"50%ΔGET-CP","s":6,"v":220},{"p":"F","g":"50%ΔGET-CP","s":7,"v":750},{"p":"F","g":"50%ΔGET-CP","s":8,"v":150},{"p":"F","g":"50%ΔGET-CP","s":9,"v":420},{"p":"F","g":"50%ΔGET-CP","s":10,"v":320},{"p":"F","g":"50%ΔGET-CP","s":11,"v":580},{"p":"F","g":"50%ΔGET-CP","s":12,"v":200},{"p":"F","g":"50%ΔGET-CP","s":13,"v":350},{"p":"F","g":"50%ΔGET-CP","s":14,"v":550},{"p":"F","g":"50%ΔGET-CP","s":15,"v":260}
]
},
"config":{
 "view":{"stroke":null},
 "font":"Liberation Sans",
 "axis":{"labelFont":"Liberation Sans","titleFont":"Liberation Sans","labelFontWeight":"bold","titleFontWeight":"bold","labelFontSize":6,"titleFontSize":6.5,"labelColor":"#222222","titleColor":"#222222","domainColor":"#222222","tickColor":"#222222","domainWidth":0.8,"tickWidth":0.8,"tickSize":2.5,"labelPadding":1.5,"titlePadding":3,"grid":false}
}
}
